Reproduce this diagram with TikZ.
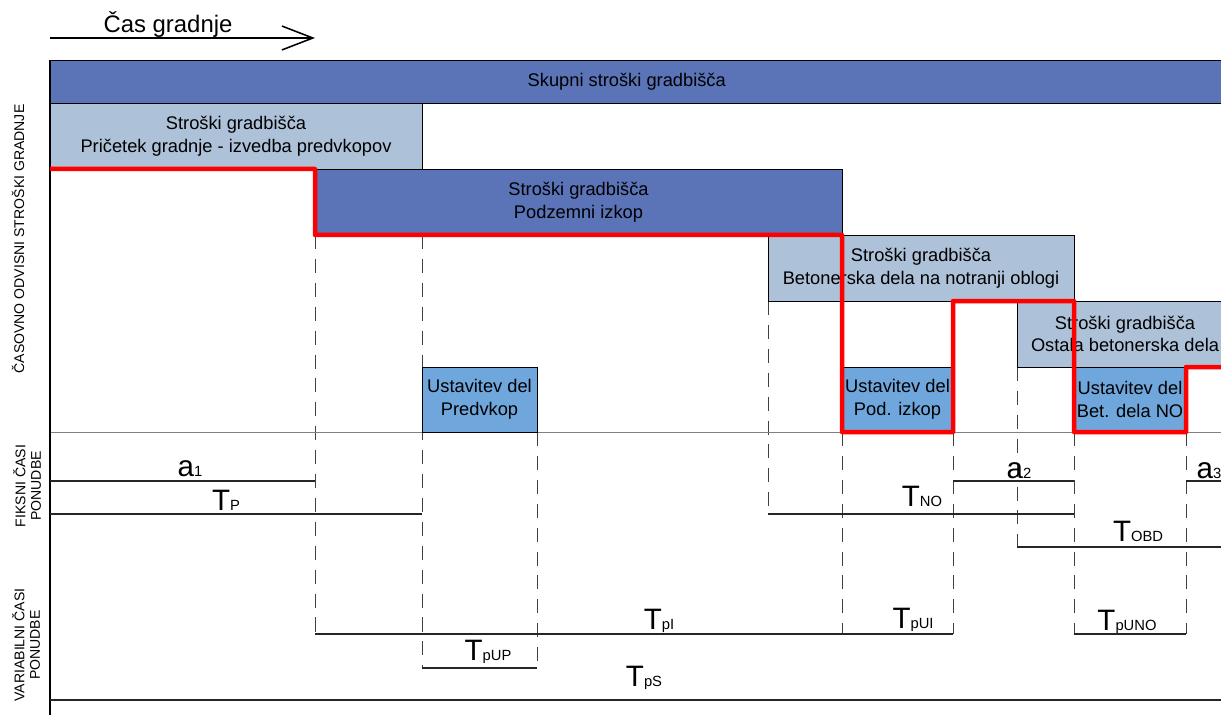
\documentclass[tikz,border=0pt]{standalone}
\usepackage{fontspec}
\setmainfont{Liberation Sans}
\usetikzlibrary{arrows.meta}
\definecolor{darkbar}{RGB}{91,115,183}
\definecolor{lightbar}{RGB}{173,194,216}
\definecolor{stopbar}{RGB}{111,166,220}
\newcommand{\tlab}[2]{{\fontsize{21}{21}\selectfont #1}{\fontsize{10.5}{10.5}\selectfont #2}}
\tikzset{
  cost/.style={draw=black, line width=0.7pt, inner sep=0pt, outer sep=0pt, anchor=north west,
               align=center, font=\fontsize{13}{16}\selectfont},
  costdark/.style={cost, fill=darkbar},
  costlight/.style={cost, fill=lightbar},
  stopbox/.style={cost, fill=stopbar},
  guide/.style={black!75, line width=0.6pt, dash pattern=on 10pt off 7pt},
  span/.style={black!85, line width=1.1pt},
  spanlabel/.style={anchor=base, inner sep=0pt},
  axislabel/.style={rotate=90, align=center, font=\fontsize{10}{11}\selectfont},
  critical/.style={red, line width=3.2pt, line join=round}
}
\begin{document}
\begin{tikzpicture}[x=0.025cm, y=-0.025cm]
        \clip (0,0) rectangle (1221,715);
        \foreach \n/\x in {0/50,1/315,2/422,3/537,4/768,5/842,6/953,7/1017,8/1074,9/1186,10/1221}
            \coordinate (t\n) at (\x,0);
        \foreach \n/\y in {a/481,b/514,c/547,d/634,e/668,f/700,g/432}
            \coordinate (y\n) at (0,\y);
        \coordinate (tstart) at (50,38);
        \coordinate (tend) at (315,38);
        \node[anchor=base, font=\fontsize{17}{17}\selectfont] (title) at (168,33) {Čas gradnje};
        \draw[line width=1.1pt, -{Straight Barb[length=22pt, width=17pt]}] (tstart) -- (tend);
        \foreach \t/\a/\b in {1/235/634, 2/235/668, 3/432/668, 4/301/514, 5/432/634,
                              6/432/634, 7/367/547, 8/432/634, 9/432/634}
            \draw[guide] (t\t |- 0,\a) -- (t\t |- 0,\b);
        \draw[gray, line width=0.7pt] (t0 |- yg) -- (t10 |- yg);
        \node[costdark, minimum width=1183*0.025cm, minimum height=43*0.025cm] (total) at (50,60)
            {Skupni stroški gradbišča\kern21pt};
        \node[costlight, minimum width=372*0.025cm, minimum height=66*0.025cm] (start) at (50,103)
            {Stroški gradbišča\\Pričetek gradnje - izvedba predvkopov};
        \node[costdark, minimum width=527*0.025cm, minimum height=66*0.025cm] (dig) at (315,169)
            {Stroški gradbišča\\Podzemni izkop};
        \node[costlight, minimum width=306*0.025cm, minimum height=66*0.025cm] (lining) at (768,235)
            {Stroški gradbišča\\Betonerska dela na notranji oblogi};
        \node[costlight, minimum width=216*0.025cm, minimum height=66*0.025cm] (rest) at (1017,301)
            {Stroški gradbišča\\Ostala betonerska dela};
        \node[stopbox, minimum width=115*0.025cm, minimum height=65*0.025cm] (stopA) at (422,367)
            {Ustavitev del\\Predvkop};
        \node[stopbox, minimum width=111*0.025cm, minimum height=65*0.025cm] (stopB) at (842,367)
            {Ustavitev del\\Pod. izkop};
        \node[stopbox, minimum width=112*0.025cm, minimum height=65*0.025cm] (stopC) at (1074,367)
            {Ustavitev del\\Bet. dela NO};
        \draw[black, line width=0.8pt] (t0 |- 0,60) -- (t0 |- 0,715);
        \draw[span] (t0 |- ya) -- (t1 |- ya);
        \draw[span] (t0 |- yb) -- (t2 |- yb);
        \draw[span] (t6 |- ya) -- (t8 |- ya);
        \draw[span] (t4 |- yb) -- (t8 |- yb);
        \draw[span] (t9 |- ya) -- (t10 |- ya);
        \draw[span] (t7 |- yc) -- (t10 |- yc);
        \draw[span] (t1 |- yd) -- (t5 |- yd) -- (t6 |- yd);
        \draw[span] (t8 |- yd) -- (t9 |- yd);
        \draw[span] (t2 |- ye) -- (t3 |- ye);
        \draw[span] (t0 |- yf) -- (t10 |- yf);
        \node[spanlabel] (la1) at (190,476) {\tlab{a}{1}};
        \node[spanlabel] (lTP) at (226,510) {\tlab{T}{P}};
        \node[spanlabel] (la2) at (1019,478) {\tlab{a}{2}};
        \node[spanlabel] (lTNO) at (922,506) {\tlab{T}{NO}};
        \node[spanlabel] (la3) at (1209,478) {\tlab{a}{3}};
        \node[spanlabel] (lTOBD) at (1138,541) {\tlab{T}{OBD}};
        \node[spanlabel] (lTpI) at (659,629) {\tlab{T}{pI}};
        \node[spanlabel] (lTpUI) at (913,628) {\tlab{T}{pUI}};
        \node[spanlabel] (lTpUNO) at (1127,630) {\tlab{T}{pUNO}};
        \node[spanlabel] (lTpUP) at (488,660) {\tlab{T}{pUP}};
        \node[spanlabel] (lTpS) at (644,686) {\tlab{T}{pS}};
        \draw[critical] (start.south west) -- (dig.north west) -- (dig.south west) -- (dig.south east)
            -- (stopB.south west) -- (stopB.south east) -- (stopB.south east |- lining.south)
            -- (lining.south east) -- (stopC.south west) -- (stopC.south east) -- (stopC.north east)
            -- (t10 |- stopC.north);
        \node[axislabel] (lcost) at (18,239) {ČASOVNO ODVISNI STROŠKI GRADNJE};
        \node[axislabel] (lfix) at (27,486) {FIKSNI ČASI\\PONUDBE};
        \node[axislabel] (lvar) at (26,645) {VARIABILNI ČASI\\PONUDBE};
\end{tikzpicture}
\end{document}
